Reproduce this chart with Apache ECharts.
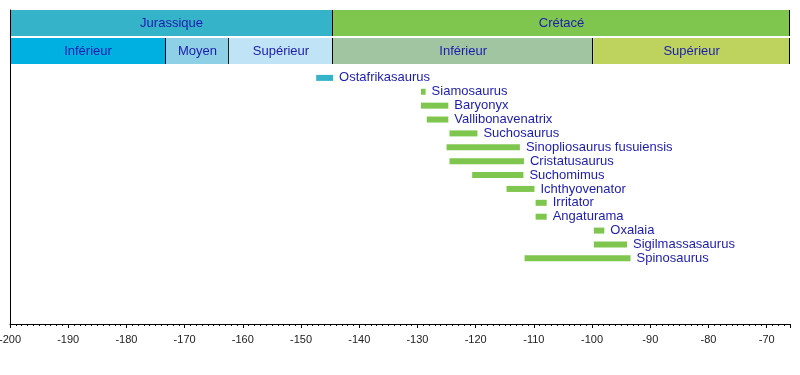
<!DOCTYPE html>
<html>
<head>
	<meta charset="utf-8">
	<title>Spinosauridae</title>
	<style type="text/css">
		body{
			margin: 0px;
		}
		.chart{
			width: 800px;
			height: 375px;
		}
	</style>
	<script type="text/javascript" src="https://cdn.jsdelivr.net/npm/echarts@6/dist/echarts.min.js"></script>
</head>
<body>
	<div id="chart" class="chart"></div>
	<script type="text/javascript">
		// taxa, ages in Ma (negative = before present)
		var names = ['Ostafrikasaurus', 'Siamosaurus', 'Baryonyx', 'Vallibonavenatrix', 'Suchosaurus',
			'Sinopliosaurus fusuiensis', 'Cristatusaurus', 'Suchomimus', 'Ichthyovenator', 'Irritator',
			'Angaturama', 'Oxalaia', 'Sigilmassasaurus', 'Spinosaurus'];
		var starts = [-147.4, -129.4, -129.4, -128.4, -124.5, -125, -124.5, -120.6, -114.7, -109.7, -109.7, -99.7, -99.7, -111.6];
		var ends = [-144.5, -128.6, -124.7, -124.7, -119.7, -112.4, -111.7, -111.8, -109.9, -107.8, -107.8, -97.9, -94, -93.4];

		// geologic time header
		var periodNames = ['Jurassique', 'Crétacé'];
		var periodStarts = [-201.3, -144.5];
		var periodEnds = [-144.5, -66];
		var epochNames = ['Inférieur', 'Moyen', 'Supérieur', 'Inférieur', 'Supérieur'];
		var epochStarts = [-201.3, -173.2, -162.4, -144.5, -99.8];
		var epochEnds = [-173.2, -162.4, -144.5, -99.8, -66];

		var periodColors = ['#35b3c9', '#7fc64e'];
		var epochColors = ['#00b0e1', '#8ed0e6', '#c0e3f6', '#a1c5a1', '#bdd35d'];
		var textColor = '#1c1cae';
		var font = '13px "Liberation Sans", Arial, sans-serif';

		var chart = echarts.init(document.getElementById('chart'));

		var headerData = [];
		for(var i = 0; i < periodNames.length; i++){
			headerData.push([periodStarts[i], periodEnds[i], 0, periodNames[i], periodColors[i]]);
		}
		for(var i = 0; i < epochNames.length; i++){
			headerData.push([epochStarts[i], epochEnds[i], 1, epochNames[i], epochColors[i]]);
		}

		var barData = [];
		for(var i = 0; i < names.length; i++){
			barData.push([starts[i], ends[i], i + 1, names[i]]);
		}

		function renderHeader(params, api){
			var p0 = api.coord([api.value(0), api.value(2)]);
			var p1 = api.coord([api.value(1), api.value(2) + 1]);
			var cs = params.coordSys;
			var x0 = Math.max(p0[0], cs.x);
			var x1 = Math.min(p1[0], cs.x + cs.width);
			var y0 = p0[1] + (api.value(2) === 1 ? 1 : 0);
			var y1 = p1[1] - (api.value(2) === 0 ? 1 : 0);
			return {
				type: 'group',
				children: [{
					type: 'rect',
					shape: {x: x0, y: y0, width: x1 - x0, height: y1 - y0},
					style: {fill: headerData[params.dataIndex][4]}
				}, {
					type: 'line',
					shape: {x1: Math.round(x1) - 0.5, y1: y0, x2: Math.round(x1) - 0.5, y2: y1},
					style: {stroke: '#000', lineWidth: 1}
				}, {
					type: 'text',
					x: (x0 + x1) / 2,
					y: (y0 + y1) / 2,
					style: {
						text: api.value(3),
						fill: textColor,
						font: font,
						align: 'center',
						verticalAlign: 'middle'
					}
				}]
			};
		}

		function renderBar(params, api){
			var p0 = api.coord([api.value(0), api.value(2)]);
			var p1 = api.coord([api.value(1), api.value(2)]);
			var color = api.value(1) <= periodEnds[0] ? periodColors[0] : periodColors[1];
			return {
				type: 'group',
				children: [{
					type: 'rect',
					shape: {x: p0[0], y: p0[1] - 3, width: p1[0] - p0[0], height: 6},
					style: {fill: color}
				}, {
					type: 'text',
					x: p1[0] + 6,
					y: p1[1],
					style: {
						text: api.value(3),
						fill: textColor,
						font: font,
						align: 'left',
						verticalAlign: 'middle'
					}
				}]
			};
		}

		chart.setOption({
			animation: false,
			backgroundColor: '#fff',
			grid: [{
				left: 10,
				right: 10,
				top: 64,
				bottom: 51,
				outerBoundsMode: 'none',
				containLabel: false
			}, {
				left: 10,
				right: 10,
				top: 10,
				height: 54,
				outerBoundsMode: 'none',
				containLabel: false
			}],
			xAxis: [{
				type: 'value',
				min: -200,
				max: -66,
				interval: 10,
				axisLine: {
					onZero: false,
					lineStyle: {color: '#000', width: 1}
				},
				axisTick: {
					show: true,
					length: 4,
					lineStyle: {color: '#000'}
				},
				minorTick: {
					show: true,
					splitNumber: 10,
					length: 2,
					lineStyle: {color: '#000'}
				},
				splitLine: {show: false},
				axisLabel: {
					color: '#222',
					fontSize: 11,
					fontFamily: 'Liberation Sans',
					margin: 10,
					showMaxLabel: false
				}
			}, {
				type: 'value',
				gridIndex: 1,
				min: -200,
				max: -66,
				show: false
			}],
			yAxis: [{
				type: 'value',
				inverse: true,
				min: 0,
				max: 18.73,
				axisLine: {
					show: true,
					onZero: false,
					lineStyle: {color: '#000', width: 1}
				},
				axisTick: {show: false},
				axisLabel: {show: false},
				splitLine: {show: false}
			}, {
				type: 'value',
				gridIndex: 1,
				inverse: true,
				min: 0,
				max: 2,
				z: 5,
				axisLine: {
					show: true,
					onZero: false,
					lineStyle: {color: '#000', width: 1}
				},
				axisTick: {show: false},
				axisLabel: {show: false},
				splitLine: {show: false}
			}],
			series: [{
				type: 'custom',
				xAxisIndex: 1,
				yAxisIndex: 1,
				renderItem: renderHeader,
				data: headerData,
				clip: false
			}, {
				type: 'custom',
				renderItem: renderBar,
				data: barData,
				clip: false
			}]
		});
	</script>
</body>
</html>
